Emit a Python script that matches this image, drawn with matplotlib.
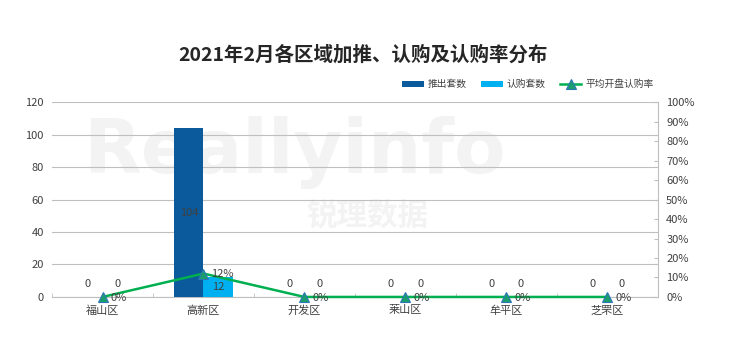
import matplotlib.pyplot as plt
import numpy as np
from matplotlib.ticker import PercentFormatter, MultipleLocator

plt.rcParams['font.family'] = ['Noto Sans CJK SC', 'DejaVu Sans']

# data
districts = ['福山区', '高新区', '开发区', '莱山区', '牟平区', '芝罘区']
pushed = [0, 104, 0, 0, 0, 0]        # 推出套数
subscribed = [0, 12, 0, 0, 0, 0]     # 认购套数
rate = [0, 12, 0, 0, 0, 0]           # 平均开盘认购率 (%)

dark_blue = '#0b5a9c'
light_blue = '#00b0f0'
green = '#00b050'
grid_c = '#bfbfbf'
txt_c = '#404040'

fig = plt.figure(figsize=(7.4, 3.51), dpi=100)
ax = fig.add_axes([0.0703, 0.154, 0.8187, 0.555])
ax2 = ax.twinx()

# faint watermark, kept inside the plot area
ax.text(0.40, 0.74, 'Reallyinfo', transform=ax.transAxes, fontsize=54, fontweight='bold',
        color='#f3f3f3', ha='center', va='center', zorder=0, family='DejaVu Sans')
ax.text(0.52, 0.42, '锐理数据', transform=ax.transAxes, fontsize=22, fontweight='bold',
        color='#f3f3f3', ha='center', va='center', zorder=0)

x = np.arange(len(districts))
w = 0.29
b1 = ax.bar(x - w / 2, pushed, w, color=dark_blue, label='推出套数', zorder=3)
b2 = ax.bar(x + w / 2, subscribed, w, color=light_blue, label='认购套数', zorder=3)

for xi, v in zip(x, pushed):
    y = v / 2 if v > 0 else 8
    ax.text(xi - w / 2, y, f'{v}', ha='center', va='center', fontsize=8, color=txt_c, zorder=5)
for xi, v in zip(x, subscribed):
    y = v / 2 if v > 0 else 8
    ax.text(xi + w / 2, y, f'{v}', ha='center', va='center', fontsize=8, color=txt_c, zorder=5)

ax.set_xlim(-0.5, len(districts) - 0.5)
ax.set_ylim(0, 120)
ax.yaxis.set_major_locator(MultipleLocator(20))
ax.grid(axis='y', color=grid_c, linewidth=0.8, zorder=1)
ax.set_axisbelow(True)
ax.set_xticks(x)
ax.set_xticklabels(districts)
ax.set_xticks(np.arange(-0.5, len(districts)), minor=True)
ax.tick_params(axis='x', which='major', length=0, labelsize=8, colors=txt_c, pad=6)
ax.tick_params(axis='x', which='minor', direction='in', length=3, color=grid_c)
ax.tick_params(axis='y', length=0, labelsize=8, colors=txt_c, pad=6)
for s in ['top', 'left', 'right']:
    ax.spines[s].set_visible(False)
ax.spines['bottom'].set_color(grid_c)

ln, = ax2.plot(x, rate, color=green, linewidth=1.8, marker='^', markersize=6.5,
               markerfacecolor='#1a9e6e', markeredgecolor='#2e75b6', markeredgewidth=0.8,
               label='平均开盘认购率', zorder=4, clip_on=False)
for xi, v in zip(x, rate):
    ax2.text(xi + 0.08, v - 0.3, f'{v}%', ha='left', va='center', fontsize=8, color=txt_c, zorder=6)
ax2.set_ylim(0, 100)
ax2.yaxis.set_major_locator(MultipleLocator(10))
ax2.yaxis.set_major_formatter(PercentFormatter(decimals=0))
ax2.tick_params(axis='y', direction='in', length=3, color=grid_c, labelsize=8,
                labelcolor=txt_c, pad=6)
for s in ['top', 'left', 'bottom']:
    ax2.spines[s].set_visible(False)
ax2.spines['right'].set_color(grid_c)

fig.text(0.49, 0.845, '2021年2月各区域加推、认购及认购率分布', ha='center', va='center',
         fontsize=14, fontweight='bold', color='#262626')

fig.legend(handles=[b1, b2, ln], loc='center right', bbox_to_anchor=(0.895, 0.76), ncol=3,
           frameon=False, fontsize=7, handlelength=2.2, handleheight=0.6, columnspacing=1.5,
           handletextpad=0.4, labelcolor=txt_c)

fig.savefig('out.png', dpi=100)
